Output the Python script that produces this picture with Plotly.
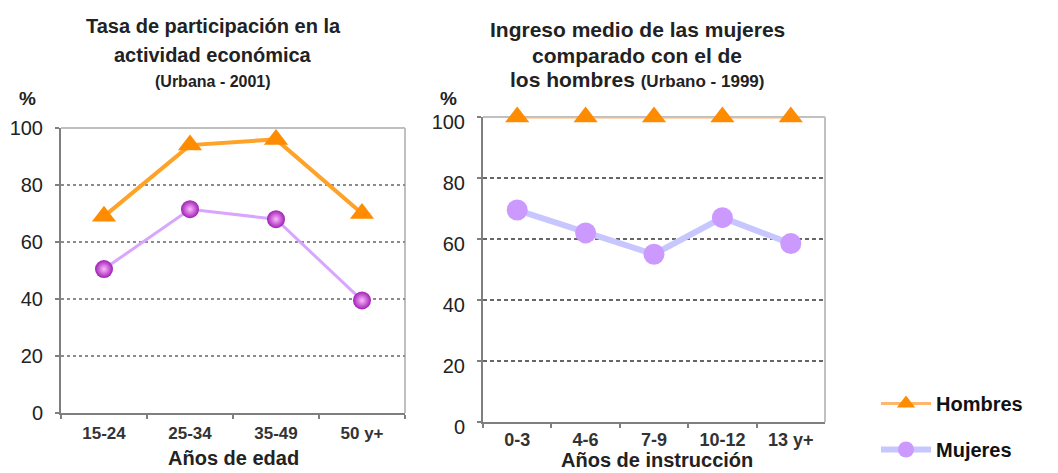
import plotly.graph_objects as go

# ---------------- data ----------------
edad_cats = ["15-24", "25-34", "35-49", "50 y+"]
edad_hombres = [69, 94, 96, 70]
edad_mujeres = [50.5, 71.5, 68, 39.5]

instr_cats = ["0-3", "4-6", "7-9", "10-12", "13 y+"]
instr_hombres = [100, 100, 100, 100, 100]
instr_mujeres = [69.5, 62, 55, 67, 58.5]

y_ticks = [0, 20, 40, 60, 80, 100]

# the page body has an 8px margin: size the figure to fit the window
OFF = 8
W, H = 1058 - OFF, 473 - OFF
FONT = "Liberation Sans, Arial, sans-serif"
ORANGE = "#FF8C00"


def px_x(p):
    return (p - OFF) / W


def px_y(p):
    return 1 - (p - OFF) / H


fig = go.Figure()

# ---- left chart ----
fig.add_trace(go.Scatter(
    x=edad_cats, y=edad_hombres, xaxis="x", yaxis="y", mode="lines+markers",
    line=dict(color="#FFA228", width=4),
    marker=dict(symbol="triangle-up", size=21, color=ORANGE),
    cliponaxis=False, showlegend=False, name="Hombres"))
fig.add_trace(go.Scatter(
    x=edad_cats, y=edad_mujeres, xaxis="x", yaxis="y", mode="lines+markers",
    line=dict(color="#D9A6FF", width=3),
    marker=dict(symbol="circle", size=18, color="#A01FB5",
                gradient=dict(type="radial", color="#FFB8FF")),
    cliponaxis=False, showlegend=False, name="Mujeres"))

# ---- right chart ----
fig.add_trace(go.Scatter(
    x=instr_cats, y=instr_hombres, xaxis="x2", yaxis="y2", mode="lines+markers",
    line=dict(color="#FFB56B", width=3),
    marker=dict(symbol="triangle-up", size=21, color=ORANGE),
    cliponaxis=False, showlegend=True, name="Hombres", legendgroup="h"))
fig.add_trace(go.Scatter(
    x=instr_cats, y=instr_mujeres, xaxis="x2", yaxis="y2", mode="lines+markers",
    line=dict(color="#C8C6FF", width=6),
    marker=dict(symbol="circle", size=21, color="#CC99FF"),
    cliponaxis=False, showlegend=True, name="Mujeres", legendgroup="m"))

axis_dark = "#7F7F7F"
axis_light = "#C0C0C0"

common_x = dict(type="category", showgrid=False, zeroline=False, automargin=False,
                showline=True, linecolor=axis_dark, linewidth=2,
                ticks="outside", ticklen=4, tickcolor=axis_dark, tickwidth=2,
                tickson="boundaries",
                tickfont=dict(family=FONT, size=17, color="#333333", weight="bold"))
common_y = dict(range=[0, 100], tickvals=y_ticks, zeroline=False, automargin=False,
                showline=True, linecolor=axis_dark, linewidth=2,
                ticks="outside", ticklen=4, tickcolor=axis_dark, tickwidth=2,
                ticklabelstandoff=8,
                tickfont=dict(family=FONT, size=20, color="#222222"),
                showgrid=True, gridwidth=2)

fig.update_layout(
    width=W, height=H,
    margin=dict(l=0, r=0, t=0, b=0, autoexpand=False),
    paper_bgcolor="white", plot_bgcolor="white",
    xaxis=dict(common_x, domain=[px_x(61), px_x(405)], range=[-0.5, 3.5], anchor="y",
               ticklabelstandoff=4),
    yaxis=dict(common_y, domain=[px_y(413), px_y(128)], anchor="x",
               gridcolor="#8C8C8C", griddash="dot"),
    xaxis2=dict(common_x, domain=[px_x(483), px_x(825)], range=[-0.5, 4.5], anchor="y2",
                tickfont=dict(family=FONT, size=18, color="#333333", weight="bold")),
    yaxis2=dict(common_y, domain=[px_y(422), px_y(117)], anchor="x2",
                gridcolor="#666666", griddash="4px,3px", ticklabelshift=5),
    legend=dict(x=px_x(876), y=px_y(384), xanchor="left", yanchor="top",
                font=dict(family=FONT, size=20, color="#111111", weight="bold"),
                itemwidth=50, tracegroupgap=17, bgcolor="rgba(0,0,0,0)"),
)

# frame (top / right edges of each plot area)
for xr, yr in (("x domain", "y domain"), ("x2 domain", "y2 domain")):
    fig.add_shape(type="line", xref=xr, yref=yr, x0=0, x1=1, y0=1, y1=1,
                  line=dict(color=axis_light, width=2), layer="below")
    fig.add_shape(type="line", xref=xr, yref=yr, x0=1, x1=1, y0=0, y1=1,
                  line=dict(color=axis_light, width=2), layer="below")

ann = []


def text(x, y, s, size, bold=True, color="#222222", xanchor="center"):
    ann.append(dict(x=px_x(x), y=px_y(y), xref="paper", yref="paper", text=s,
                    showarrow=False, xanchor=xanchor, yanchor="middle",
                    font=dict(family=FONT, size=size, color=color,
                              weight="bold" if bold else "normal")))


# left title
text(213, 26, "Tasa de participación en la", 20)
text(213, 55, "actividad económica", 20)
text(213, 81, "(Urbana - 2001)", 16)
# right title
text(637, 29, "Ingreso medio de las mujeres", 21)
text(637, 55, "comparado con el de", 21)
text(637, 80, "los hombres <span style='font-size:17px'>(Urbano - 1999)</span>", 21)
# % labels
text(27, 99, "%", 19, bold=True)
text(448, 99, "%", 19, bold=True)
# x-axis titles
text(233, 458, "Años de edad", 20)
text(657, 460, "Años de instrucción", 20)

fig.update_layout(annotations=ann)

fig.write_html("out.html")
